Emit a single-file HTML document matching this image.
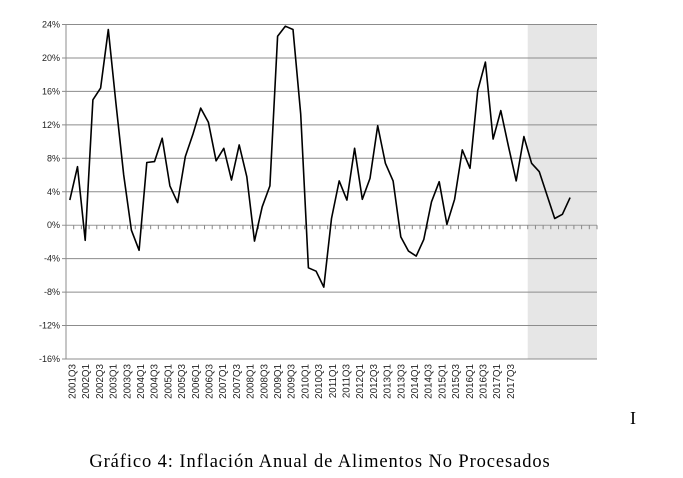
<!DOCTYPE html>
<html><head><meta charset="utf-8"><style>
body{margin:0;background:#fff;width:683px;height:473px;overflow:hidden}
svg text{font-family:"Liberation Sans",sans-serif}
</style></head><body>
<svg id="c" width="683" height="473" xmlns="http://www.w3.org/2000/svg"></svg>
<script>
const values=[3.0,7.0,-1.8,15.0,16.4,23.4,14.5,6.0,-0.6,-3.0,7.5,7.6,10.4,4.7,2.7,8.2,10.9,14.0,12.3,7.7,9.2,5.4,9.6,5.8,-1.9,2.2,4.7,22.6,23.8,23.4,13.3,-5.1,-5.5,-7.4,0.8,5.3,3.0,9.2,3.1,5.6,11.9,7.4,5.3,-1.4,-3.1,-3.7,-1.7,2.8,5.2,0.1,3.1,9.0,6.8,16.1,19.5,10.3,13.7,9.4,5.3,10.6,7.4,6.4,3.6,0.8,1.3,3.3];
const xLabels=["2001Q3","2002Q1","2002Q3","2003Q1","2003Q3","2004Q1","2004Q3","2005Q1","2005Q3","2006Q1","2006Q3","2007Q1","2007Q3","2008Q1","2008Q3","2009Q1","2009Q3","2010Q1","2010Q3","2011Q1","2011Q3","2012Q1","2012Q3","2013Q1","2013Q3","2014Q1","2014Q3","2015Q1","2015Q3","2016Q1","2016Q3","2017Q1","2017Q3"];
const yTicks=[24,20,16,12,8,4,0,-4,-8,-12,-16];
const forecastStart=60;
const NS='http://www.w3.org/2000/svg',svg=document.getElementById('c');
const L=66,R=597,T=24.5,B=359,nSlots=69,sw=(R-L)/nSlots;
const y=v=>T+(24-v)/40*(B-T);
const x=i=>L+sw*(i+0.5);
function mk(t,a){const e=document.createElementNS(NS,t);for(const k in a)e.setAttribute(k,a[k]);svg.appendChild(e);return e;}
let e=mk('rect',{x:L+sw*forecastStart,y:T,width:R-(L+sw*forecastStart),height:B-T,fill:'#e6e6e6'});


yTicks.forEach(v=>{
 let g=mk('line',{x1:62,x2:R,y1:y(v),y2:y(v),stroke:v===0?'#999':'#8c8c8c','stroke-width':1});
 
 
 let t=mk('text',{x:60,y:y(v)+3,'text-anchor':'end','font-size':9,fill:'#222'});t.textContent=v+'%';
 
 
});
e=mk('line',{x1:L,x2:L,y1:T,y2:B,stroke:'#8c8c8c'});


for(let i=0;i<=nSlots;i++){let tk=mk('line',{x1:L+sw*i,x2:L+sw*i,y1:y(0),y2:y(0)+4,stroke:'#888'});
 
 }
let d=values.map((v,i)=>(i?'L':'M')+x(i).toFixed(1)+' '+y(v).toFixed(1)).join(' ');
e=mk('path',{d:d,fill:'none',stroke:'#000','stroke-width':1.6,'stroke-linejoin':'round'});


xLabels.forEach((s,k)=>{const lx=75.5+k*13.7;
 let t=mk('text',{x:0,y:0,'text-anchor':'end','font-size':9.8,fill:'#222',transform:`translate(${lx},364) rotate(-90)`});t.textContent=s;
 
 });
e=mk('text',{x:630,y:424,'font-size':18,style:'font-family:"Liberation Serif",serif'});e.textContent='I';


e=mk('text',{x:320,y:467,'text-anchor':'middle','font-size':18.5,'letter-spacing':'0.9',style:'font-family:"Liberation Serif",serif'});e.textContent='Gráfico 4: Inflación Anual de Alimentos No Procesados';


</script>
</body></html>
